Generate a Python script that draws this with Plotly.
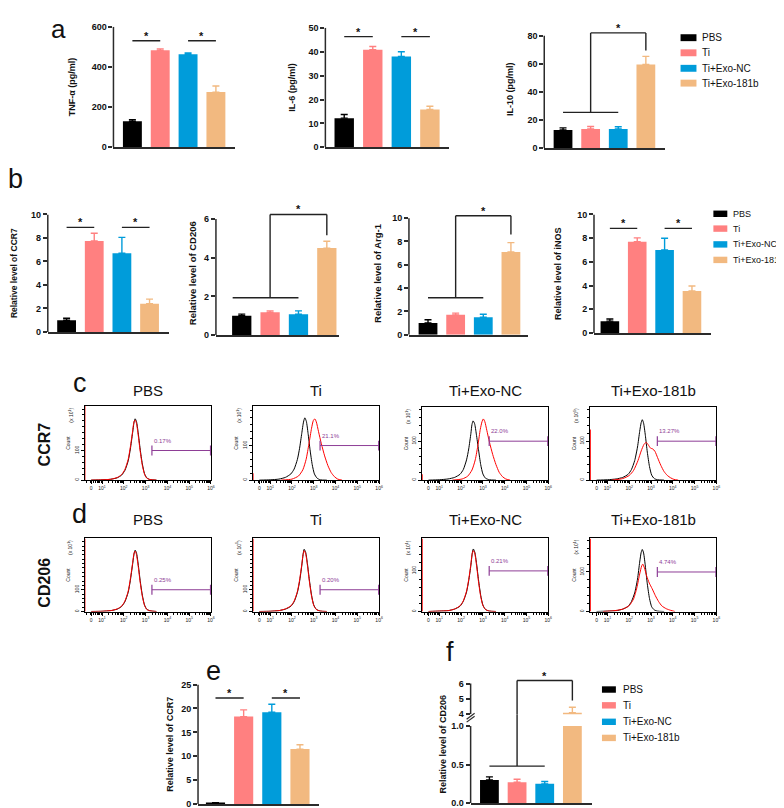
import numpy as np
import plotly.graph_objects as go

W, H = 784, 808
FONT = "Liberation Sans, Arial, sans-serif"
AX = "#2b2b2b"
PURPLE = "#8E3E96"

# ---------------- data ----------------
GROUPS = ["PBS", "Ti", "Ti+Exo-NC", "Ti+Exo-181b"]
COLORS = ["#000000", "#FF8080", "#009CDA", "#F2B980"]

TNF = [130, 483, 463, 275]
TNF_SD = [8, 7, 7, 30]
IL6 = [12.2, 40.8, 38.0, 15.8]
IL6_SD = [1.5, 1.4, 2.0, 1.4]
IL10 = [13.0, 13.7, 13.7, 59.5]
IL10_SD = [1.5, 1.8, 1.6, 5.8]
CCR7_QPCR = [1.0, 7.75, 6.7, 2.4]
CCR7_QPCR_SD = [0.17, 0.65, 1.35, 0.4]
CD206_QPCR = [1.0, 1.17, 1.07, 4.5]
CD206_QPCR_SD = [0.08, 0.08, 0.18, 0.35]
ARG1 = [1.0, 1.7, 1.5, 7.1]
ARG1_SD = [0.28, 0.15, 0.25, 0.8]
INOS = [1.0, 7.7, 7.0, 3.55]
INOS_SD = [0.18, 0.33, 1.0, 0.42]
CCR7_FLOW = [0.2, 18.3, 19.2, 11.5]
CCR7_FLOW_SD = [0.1, 1.4, 1.7, 0.9]
CD206_FLOW = [0.30, 0.27, 0.25, 4.1]
CD206_FLOW_SD = [0.04, 0.04, 0.03, 0.35]

# significance: [x_from, x_to, y]
TNF_SIG = [[0, 1, 531], [2, 3, 531]]
IL6_SIG = [[0, 1, 46.3], [2, 3, 46.3]]
CCR7_QPCR_SIG = [[0, 1, 8.9], [2, 3, 8.9]]
INOS_SIG = [[0, 1, 8.83], [2, 3, 8.83]]
CCR7_FLOW_SIG = [[0, 1, 22.2], [2, 3, 22.2]]
# bracket: [x_from, x_to, x_mid, y_low, y_top, x_end, y_end]
IL10_BRACKET = [0, 2, 1, 25.5, 82, 3, 69.5]
CD206_QPCR_BRACKET = [-0.32, 2, 1, 1.93, 6.24, 3, 5.17]
ARG1_BRACKET = [0, 2, 1, 3.17, 10.2, 3, 8.6]
CD206_FLOW_BRACKET = [0, 2, 1, 0.48, 6.2, 3, 4.9]

# flow cytometry histograms (x in log10 units, y = count x10)
FLOW_TITLES = ["PBS", "Ti", "Ti+Exo-NC", "Ti+Exo-181b"]
CCR7_PCT = ["0.17%", "21.1%", "22.0%", "13.27%"]
CD206_PCT = ["0.25%", "0.20%", "0.21%", "4.74%"]
GATE_X = [3.29, 5.98]
GATE_COUNT = 100
CCR7_EDGE = [250, 20, 15, 130]
CD206_EDGE = [336, 336, 180, 185]

CCR7_CTRL_X = [
    [0.5, 1.0, 1.4, 1.7, 1.9, 2.05, 2.2, 2.3, 2.4, 2.47, 2.52, 2.58, 2.66, 2.75, 2.85, 2.95, 3.05, 3.2, 3.5],
    [0.5, 1.0, 1.4, 1.7, 1.95, 2.1, 2.25, 2.35, 2.45, 2.53, 2.59, 2.66, 2.74, 2.83, 2.93, 3.03, 3.15, 3.3, 3.6],
    [0.5, 1.0, 1.4, 1.7, 1.95, 2.1, 2.25, 2.35, 2.45, 2.5, 2.55, 2.62, 2.7, 2.8, 2.9, 3.0, 3.12, 3.3, 3.6],
    [0.5, 1.0, 1.4, 1.7, 1.95, 2.1, 2.25, 2.38, 2.48, 2.55, 2.6, 2.66, 2.74, 2.83, 2.93, 3.03, 3.15, 3.3, 3.6],
]
CCR7_CTRL_Y = [
    [0, 1, 3, 8, 17, 33, 65, 105, 158, 195, 207, 198, 160, 105, 55, 22, 8, 2, 0],
    [0, 1, 3, 8, 18, 32, 60, 92, 135, 168, 180, 170, 135, 88, 45, 18, 6, 1, 0],
    [0, 1, 3, 7, 15, 27, 52, 80, 120, 143, 152, 145, 118, 78, 40, 16, 5, 1, 0],
    [0, 1, 3, 7, 15, 27, 50, 85, 125, 148, 155, 146, 115, 72, 35, 13, 4, 1, 0],
]
CCR7_STAIN_X = [
    [0.5, 1.0, 1.4, 1.7, 1.9, 2.05, 2.2, 2.3, 2.4, 2.47, 2.52, 2.58, 2.66, 2.75, 2.85, 2.95, 3.05, 3.2, 3.5],
    [1.5, 2.0, 2.3, 2.5, 2.65, 2.78, 2.9, 2.98, 3.05, 3.12, 3.22, 3.35, 3.5, 3.65, 3.8, 3.95, 4.1, 4.3],
    [1.6, 2.05, 2.3, 2.5, 2.65, 2.78, 2.88, 2.96, 3.02, 3.09, 3.18, 3.3, 3.45, 3.6, 3.75, 3.9, 4.05, 4.25],
    [1.2, 1.7, 2.0, 2.2, 2.4, 2.55, 2.68, 2.78, 2.88, 2.98, 3.08, 3.18, 3.3, 3.45, 3.6, 3.75, 3.9, 4.05, 4.25],
]
CCR7_STAIN_Y = [
    [0, 1, 3, 9, 19, 36, 70, 112, 163, 198, 203, 192, 152, 98, 50, 20, 7, 2, 0],
    [0, 3, 12, 30, 60, 105, 150, 172, 177, 168, 140, 105, 70, 42, 22, 10, 3, 0],
    [0, 3, 10, 26, 52, 92, 130, 150, 157, 150, 128, 98, 66, 40, 20, 9, 3, 0],
    [0, 4, 12, 25, 50, 75, 92, 97, 90, 82, 80, 74, 58, 38, 22, 12, 6, 2, 0],
]
CD206_CTRL_X = [
    [0.5, 1.0, 1.4, 1.7, 1.9, 2.05, 2.2, 2.3, 2.4, 2.47, 2.52, 2.58, 2.66, 2.75, 2.85, 2.95, 3.05, 3.2, 3.5],
    [0.5, 1.0, 1.4, 1.7, 1.95, 2.1, 2.25, 2.35, 2.45, 2.51, 2.56, 2.63, 2.71, 2.8, 2.9, 3.0, 3.12, 3.3, 3.6],
    [0.5, 1.0, 1.4, 1.7, 1.95, 2.1, 2.25, 2.35, 2.45, 2.51, 2.56, 2.63, 2.71, 2.8, 2.9, 3.0, 3.12, 3.3, 3.6],
    [0.5, 1.0, 1.4, 1.7, 1.95, 2.1, 2.25, 2.38, 2.48, 2.55, 2.6, 2.66, 2.74, 2.83, 2.93, 3.03, 3.15, 3.3, 3.6],
]
CD206_CTRL_Y = [
    [0, 1, 4, 11, 23, 45, 88, 143, 215, 265, 282, 270, 218, 143, 75, 30, 11, 3, 0],
    [0, 1, 4, 11, 24, 45, 88, 138, 210, 262, 286, 272, 220, 145, 75, 30, 10, 2, 0],
    [0, 1, 2, 6, 13, 25, 48, 76, 114, 142, 154, 146, 118, 78, 40, 16, 5, 1, 0],
    [0, 1, 2, 6, 13, 25, 47, 82, 125, 150, 157, 148, 115, 70, 33, 12, 4, 1, 0],
]
CD206_STAIN_X = [
    [0.5, 1.0, 1.4, 1.7, 1.9, 2.05, 2.2, 2.3, 2.4, 2.47, 2.52, 2.58, 2.66, 2.75, 2.85, 2.95, 3.05, 3.2, 3.5],
    [0.5, 1.0, 1.4, 1.7, 1.95, 2.1, 2.25, 2.35, 2.45, 2.51, 2.56, 2.63, 2.71, 2.8, 2.9, 3.0, 3.12, 3.3, 3.6],
    [0.5, 1.0, 1.4, 1.7, 1.95, 2.1, 2.25, 2.35, 2.45, 2.51, 2.56, 2.63, 2.71, 2.8, 2.9, 3.0, 3.12, 3.3, 3.6],
    [0.8, 1.3, 1.7, 2.0, 2.2, 2.35, 2.48, 2.57, 2.62, 2.7, 2.8, 2.92, 3.05, 3.2, 3.35, 3.5, 3.7, 3.9, 4.1],
]
CD206_STAIN_Y = [
    [0, 1, 4, 12, 25, 48, 93, 150, 220, 268, 278, 262, 208, 135, 70, 28, 10, 3, 0],
    [0, 1, 4, 12, 26, 48, 92, 145, 215, 262, 280, 265, 212, 138, 70, 28, 9, 2, 0],
    [0, 1, 2, 6, 14, 26, 50, 79, 117, 143, 150, 142, 113, 73, 37, 15, 5, 1, 0],
    [0, 2, 6, 15, 32, 60, 95, 115, 120, 110, 90, 72, 58, 40, 25, 14, 7, 3, 0],
]

# ---------------- helpers ----------------
fig = go.Figure()
layout = dict(
    width=W, height=H, margin=dict(l=0, r=0, t=0, b=0),
    plot_bgcolor="white", paper_bgcolor="white", showlegend=False,
    barmode="overlay", font=dict(family=FONT, color="#111"),
)
shapes = []
annotations = []


def akey(kind, n):
    return f"{kind}axis" if n == 1 else f"{kind}axis{n}"


def aref(kind, n):
    return kind if n == 1 else f"{kind}{n}"


def bar_panel(n, vals, sds, xpx, ypx0, ypxt, yr0, ytop, yext, dtick, xr,
              title=None, tsize=9, standoff=5, xn=None, tickformat=None):
    xn = xn or n
    xa, ya = aref("x", xn), aref("y", n)
    for i in range(4):
        fig.add_trace(go.Bar(
            x=[i], y=[vals[i]], width=0.68, name=GROUPS[i],
            marker=dict(color=COLORS[i], line=dict(width=0)),
            error_y=dict(type="data", symmetric=False, array=[sds[i]], arrayminus=[0],
                         color=COLORS[i], thickness=1.4, width=3.5),
            xaxis=xa, yaxis=ya, showlegend=False, hoverinfo="skip"))
    top_px = ypx0 - (ypx0 - ypxt) * (yext - yr0) / (ytop - yr0)
    if xn == n:
        layout[akey("x", n)] = dict(
            domain=[xpx[0] / W, xpx[1] / W], range=xr, anchor=ya, showline=True,
            linecolor=AX, linewidth=1.5, ticks="", showticklabels=False,
            showgrid=False, zeroline=False)
    yax = dict(
        domain=[1 - ypx0 / H, 1 - top_px / H], range=[yr0, yext], anchor=xa,
        showline=False, ticks="outside", ticklen=4, tickwidth=1.5, tickcolor=AX,
        tick0=yr0, dtick=dtick,
        tickfont=dict(family=FONT, size=9, color="#111", weight="bold"),
        showgrid=False, zeroline=False)
    if tickformat:
        yax["tickformat"] = tickformat
    if title:
        yax["title"] = dict(text=title, standoff=standoff,
                            font=dict(family=FONT, size=tsize, color="#111", weight="bold"))
    layout[akey("y", n)] = yax
    shapes.append(dict(type="line", xref=f"{xa} domain", x0=0, x1=0, yref=ya,
                       y0=yr0, y1=ytop, line=dict(color=AX, width=1.5)))


def line(xa, ya, x0, y0, x1, y1):
    shapes.append(dict(type="line", xref=xa, yref=ya, x0=x0, y0=y0, x1=x1, y1=y1,
                       line=dict(color="#222", width=1.4)))


def star(xa, ya, x, y):
    annotations.append(dict(text="*", x=x, y=y, xref=xa, yref=ya, showarrow=False,
                            yanchor="bottom", yshift=-3,
                            font=dict(family=FONT, size=11, color="#111", weight="bold")))


def sig_pairs(n, pairs):
    xa, ya = aref("x", n), aref("y", n)
    for x0, x1, y in pairs:
        line(xa, ya, x0, y, x1, y)
        star(xa, ya, (x0 + x1) / 2, y)


def sig_bracket(n, b):
    xa, ya = aref("x", n), aref("y", n)
    xl, xr_, xm, ylo, ytp, xe, ye = b
    line(xa, ya, xl, ylo, xr_, ylo)
    line(xa, ya, xm, ylo, xm, ytp)
    line(xa, ya, xm, ytp, xe, ytp)
    line(xa, ya, xe, ytp, xe, ye)
    star(xa, ya, (xm + xe) / 2, ytp)


def text(t, xpx, ypx, size, bold=False, angle=0, xanchor="center", color="#111",
         yanchor="middle"):
    f = dict(family=FONT, size=size, color=color)
    if bold:
        f["weight"] = "bold"
    annotations.append(dict(text=t, x=xpx / W, y=1 - ypx / H, xref="paper", yref="paper",
                            showarrow=False, xanchor=xanchor, yanchor=yanchor,
                            textangle=angle, font=f, borderpad=0))


def legend_block(x_rect, x_text, ys, rw, rh, size=10):
    for i, g in enumerate(GROUPS):
        y = ys[i]
        shapes.append(dict(type="rect", xref="paper", yref="paper",
                           x0=x_rect / W, x1=(x_rect + rw) / W,
                           y0=1 - (y + rh / 2) / H, y1=1 - (y - rh / 2) / H,
                           fillcolor=COLORS[i], line=dict(width=0)))
        text(g, x_text, y, size, xanchor="left")


FLOW_XR = [0.2, 6.0]
FLOW_MINOR = [d + np.log10(k) for d in range(0, 6) for k in range(2, 10)
              if FLOW_XR[0] <= d + np.log10(k) <= FLOW_XR[1]]


def flow_panel(n, box, ymax, cx, cy, sx, sy, edge, pct):
    l, r, t, b = box
    xa, ya = aref("x", n), aref("y", n)
    fig.add_trace(go.Scatter(x=cx, y=cy, mode="lines", line=dict(color="black", width=1, shape="spline", smoothing=0.6),
                             xaxis=xa, yaxis=ya, showlegend=False, hoverinfo="skip"))
    fig.add_trace(go.Scatter(x=sx, y=sy, mode="lines", line=dict(color="#FF0000", width=1, shape="spline", smoothing=0.6),
                             xaxis=xa, yaxis=ya, showlegend=False, hoverinfo="skip"))
    fig.add_trace(go.Scatter(x=[FLOW_XR[0] + 0.01, FLOW_XR[0] + 0.01], y=[0, edge], mode="lines",
                             line=dict(color="#FF0000", width=1.2),
                             xaxis=xa, yaxis=ya, showlegend=False, hoverinfo="skip"))
    fig.add_trace(go.Scatter(x=GATE_X, y=[GATE_COUNT, GATE_COUNT], mode="lines+markers",
                             line=dict(color=PURPLE, width=1),
                             marker=dict(symbol="line-ns-open", size=7, line=dict(color=PURPLE, width=1.2)),
                             xaxis=xa, yaxis=ya, showlegend=False, hoverinfo="skip"))
    annotations.append(dict(text=pct, x=GATE_X[0], y=GATE_COUNT, xref=xa, yref=ya, showarrow=False,
                            xanchor="left", yanchor="middle", yshift=10,
                            font=dict(family=FONT, size=6, color=PURPLE)))
    layout[akey("x", n)] = dict(
        domain=[l / W, r / W], range=FLOW_XR, anchor=ya, showline=True, mirror=True,
        linecolor="black", linewidth=1, ticks="outside", ticklen=3, tickwidth=0.8,
        tickcolor="black", tickvals=[0.5, 1, 2, 3, 4, 5, 6],
        ticktext=["0", "10<sup>1</sup>", "10<sup>2</sup>", "10<sup>3</sup>",
                  "10<sup>4</sup>", "10<sup>5</sup>", "10<sup>6</sup>"],
        tickfont=dict(family=FONT, size=5, color="#222"),
        minor=dict(tickvals=FLOW_MINOR, ticks="outside", ticklen=2, tickwidth=0.5, tickcolor="black"),
        showgrid=False, zeroline=False)
    layout[akey("y", n)] = dict(
        domain=[1 - b / H, 1 - t / H], range=[0, ymax], anchor=xa, showline=True, mirror=True,
        linecolor="black", linewidth=1, ticks="outside", ticklen=3, tickwidth=0.8,
        tickcolor="black", tickvals=[0, 100], tickangle=-90,
        tickfont=dict(family=FONT, size=5, color="#222"),
        minor=dict(tickvals=list(range(20, int(ymax), 20)), ticks="outside", ticklen=2, tickwidth=0.5,
                   tickcolor="black"),
        title=dict(text="Count", standoff=2, font=dict(family=FONT, size=5, color="#222")),
        showgrid=False, zeroline=False)
    text("(x 10<sup>1</sup>)", l - 14, t + 9, 5, angle=-90, color="#222")


# ---------------- panel a ----------------
bar_panel(1, TNF, TNF_SD, (106, 228), 136, 14, 0, 600, 600, 200, [-0.68, 3.68], "TNF-α (pg/ml)", 9, 14)
sig_pairs(1, TNF_SIG)
bar_panel(2, IL6, IL6_SD, (319, 443), 136, 15, 0, 50, 50, 10, [-0.66, 3.66], "IL-6 (pg/ml)", 9, 11)
sig_pairs(2, IL6_SIG)
bar_panel(3, IL10, IL10_SD, (539, 660), 137, 23, 0, 80, 84, 20, [-0.68, 3.68], "IL-10 (pg/ml)", 9, 12)
sig_bracket(3, IL10_BRACKET)
legend_block(676, 697, [25, 40.3, 56, 71], 16, 7)

# ---------------- panel b ----------------
bar_panel(4, CCR7_QPCR, CCR7_QPCR_SD, (40, 162), 323, 204, 0, 10, 10, 2, [-0.68, 3.71],
          "Relative level of CCR7", 8.5, 12)
sig_pairs(4, CCR7_QPCR_SIG)
bar_panel(5, CD206_QPCR, CD206_QPCR_SD, (209, 333), 326, 208.7, 0, 6, 6.4, 2, [-0.91, 3.44],
          "Relative level of CD206", 9.5, 5)
sig_bracket(5, CD206_QPCR_BRACKET)
bar_panel(6, ARG1, ARG1_SD, (403, 523), 325.7, 207.7, 0, 10, 10.5, 2, [-0.69, 3.63],
          "Relative level of Arg-1", 9.5, 8)
sig_bracket(6, ARG1_BRACKET)
bar_panel(7, INOS, INOS_SD, (589, 707), 324, 204, 0, 10, 10, 2, [-0.58, 3.71],
          "Relative level of iNOS", 9, 14)
sig_pairs(7, INOS_SIG)
legend_block(709, 728, [203.3, 218.3, 234.3, 250], 14, 6.5, size=9)

# ---------------- panels c, d ----------------
C_BOXES = [(77, 204, 398, 473), (246, 373, 398, 473), (416, 543, 399, 473), (585, 712, 399, 473)]
D_BOXES = [(77, 204, 532, 606), (246, 373, 532, 606), (416, 543, 532, 606), (585, 712, 532, 606)]
C_YMAX = [250, 214, 187.5, 187.5]
D_YMAX = [336, 336, 180, 185]
for i in range(4):
    flow_panel(8 + i, C_BOXES[i], C_YMAX[i], CCR7_CTRL_X[i], CCR7_CTRL_Y[i],
               CCR7_STAIN_X[i], CCR7_STAIN_Y[i], CCR7_EDGE[i], CCR7_PCT[i])
    flow_panel(12 + i, D_BOXES[i], D_YMAX[i], CD206_CTRL_X[i], CD206_CTRL_Y[i],
               CD206_STAIN_X[i], CD206_STAIN_Y[i], CD206_EDGE[i], CD206_PCT[i])
    cx = (C_BOXES[i][0] + C_BOXES[i][1]) / 2
    text(FLOW_TITLES[i], cx, 382, 15)
    text(FLOW_TITLES[i], cx, 513, 15)
text("CCR7", 37, 437, 16, bold=True, angle=-90)
text("CD206", 37, 577, 16, bold=True, angle=-90)

# ---------------- panel e ----------------
bar_panel(16, CCR7_FLOW, CCR7_FLOW_SD, (191, 313), 801, 680, 0, 25, 25, 5, [-0.62, 3.69],
          "Relative level of CCR7", 9, 6)
sig_pairs(16, CCR7_FLOW_SIG)

# ---------------- panel f (broken axis) ----------------
bar_panel(17, CD206_FLOW, CD206_FLOW_SD, (465, 587), 800, 722, 0, 1.0, 1.0, 0.5, [-0.68, 3.71],
          None, tickformat=".1f")
bar_panel(18, CD206_FLOW, CD206_FLOW_SD, (465, 587), 710, 679, 4, 6, 6.4, 1, [-0.68, 3.71], xn=17)
text("Relative level of CD206", 437, 740, 9, bold=True, angle=-90)
b = CD206_FLOW_BRACKET
line("x17", "y17", b[0], b[3], b[1], b[3])
line("x17", "y17", b[2], b[3], b[2], 1.0)
shapes.append(dict(type="line", xref="x17", yref="paper", x0=b[2], x1=b[2],
                   y0=1 - 722 / H, y1=1 - 710 / H, line=dict(color="#222", width=1.4)))
line("x17", "y18", b[2], 4, b[2], b[4])
line("x17", "y18", b[2], b[4], b[5], b[4])
line("x17", "y18", b[5], b[4], b[5], b[6])
star("x17", "y18", (b[2] + b[5]) / 2, b[4])
for y0p, y1p in [(718, 712), (715, 709)]:
    shapes.append(dict(type="line", xref="paper", yref="paper", x0=461 / W, x1=469 / W,
                       y0=1 - y0p / H, y1=1 - y1p / H, line=dict(color=AX, width=1.2)))
legend_block(597, 617, [685, 701, 717.7, 734], 14, 6.5)

# ---------------- panel letters ----------------
text("a", 51, 0, 26, yanchor="top")
text("b", 8, 168, 27)
text("c", 72, 375, 27)
text("d", 72, 507, 27)
text("e", 207, 666, 27)
text("f", 444, 647, 27)

layout["shapes"] = shapes
layout["annotations"] = annotations
fig.update_layout(**layout)
fig.write_html("out.html")
